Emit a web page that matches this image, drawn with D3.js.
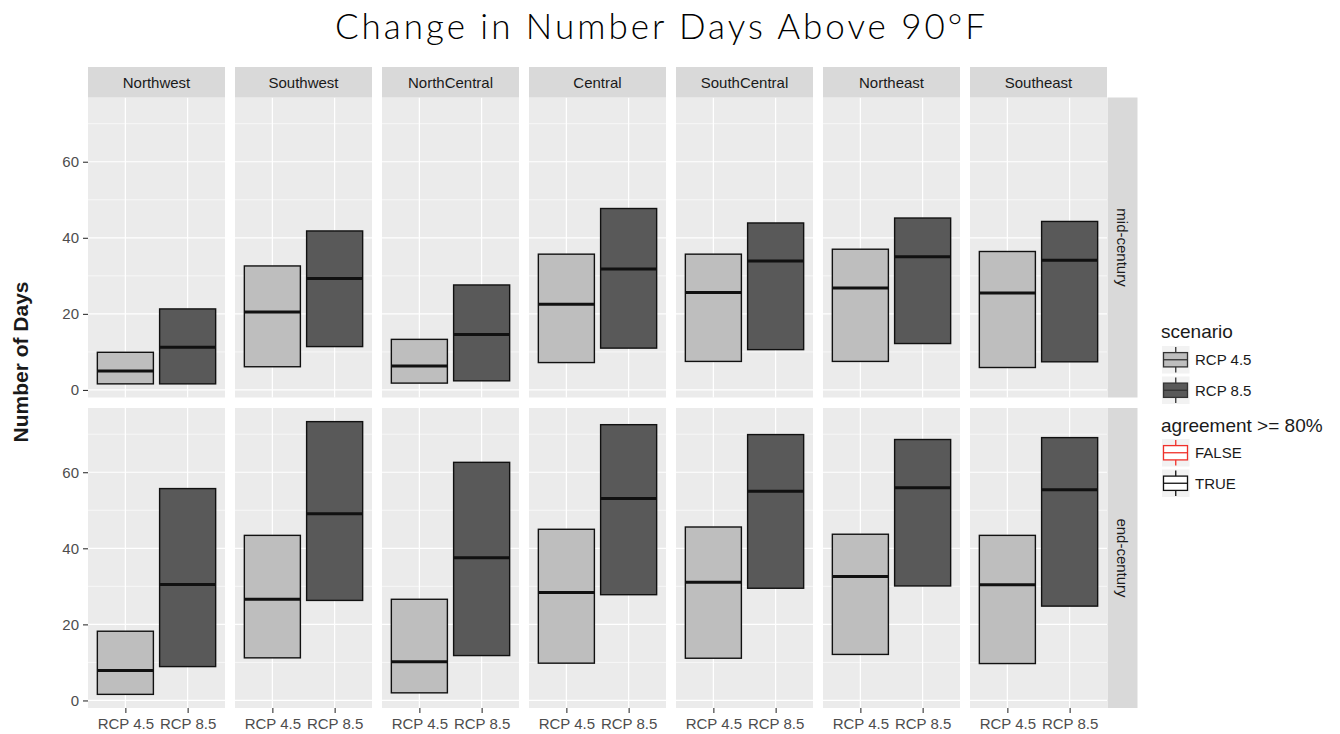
<!DOCTYPE html>
<html><head><meta charset="utf-8">
<script src="https://cdn.jsdelivr.net/npm/d3@7"></script>
<style>body{margin:0;background:#fff}</style>
</head><body><svg id="c" width="1340" height="734"></svg>
<script>
// ---- data ----
const regions = ["Northwest","Southwest","NorthCentral","Central","SouthCentral","Northeast","Southeast"];
const periods = ["mid-century","end-century"];
const scenarios = ["RCP 4.5","RCP 8.5"];
const agreementLevels = ["FALSE","TRUE"];

const midLow45  = [1.6, 6.1, 1.8, 7.2, 7.5, 7.5, 5.9];
const midMed45  = [5.0, 20.5, 6.3, 22.5, 25.6, 26.8, 25.5];
const midUp45   = [9.9, 32.6, 13.3, 35.7, 35.7, 37.0, 36.4];
const midLow85  = [1.6, 11.4, 2.4, 11.0, 10.6, 12.2, 7.4];
const midMed85  = [11.2, 29.3, 14.6, 31.8, 33.9, 35.0, 34.1];
const midUp85   = [21.3, 41.8, 27.6, 47.7, 43.9, 45.2, 44.3];
const endLow45  = [1.6, 11.2, 2.0, 9.8, 11.1, 12.1, 9.7];
const endMed45  = [7.9, 26.6, 10.2, 28.4, 31.1, 32.6, 30.4];
const endUp45   = [18.2, 43.4, 26.6, 45.0, 45.6, 43.7, 43.4];
const endLow85  = [8.9, 26.3, 11.8, 27.8, 29.5, 30.1, 24.8];
const endMed85  = [30.5, 49.1, 37.5, 53.1, 55.0, 55.9, 55.4];
const endUp85   = [55.7, 73.3, 62.6, 72.5, 69.9, 68.6, 69.1];
const agreeMid45 = ["TRUE","TRUE","TRUE","TRUE","TRUE","TRUE","TRUE"];
const agreeMid85 = ["TRUE","TRUE","TRUE","TRUE","TRUE","TRUE","TRUE"];
const agreeEnd45 = ["TRUE","TRUE","TRUE","TRUE","TRUE","TRUE","TRUE"];
const agreeEnd85 = ["TRUE","TRUE","TRUE","TRUE","TRUE","TRUE","TRUE"];

const yTicks = [0, 20, 40, 60];
const yMinor = [10, 30, 50, 70];

// ---- table ----
const series = {
  "mid-century": {"RCP 4.5": [midLow45, midMed45, midUp45, agreeMid45],
                  "RCP 8.5": [midLow85, midMed85, midUp85, agreeMid85]},
  "end-century": {"RCP 4.5": [endLow45, endMed45, endUp45, agreeEnd45],
                  "RCP 8.5": [endLow85, endMed85, endUp85, agreeEnd85]}
};
const rows = [];
periods.forEach(p => scenarios.forEach(s => regions.forEach((r, i) => {
  const [lo, md, up, ag] = series[p][s];
  rows.push({period: p, scenario: s, region: r, lower: lo[i], median: md[i], upper: up[i], agree: ag[i]});
})));

// ---- styles ----
const fillScale = d3.scaleOrdinal().domain(scenarios).range(["#BEBEBE", "#595959"]);
const colScale = d3.scaleOrdinal().domain(agreementLevels).range(["#F0302A", "#111111"]);
const FONT = "'Liberation Sans', Arial, Helvetica, sans-serif";

// ---- layout ----
const panelLeft0 = 88, panelStep = 147, panelW = 137, panelH = 300;
const rowTop = [97.5, 408];
const stripTop = 67, stripH = 30.5;
const rStripX = 1107.5, rStripW = 30;

const svg = d3.select("#c");
svg.append("rect").attr("width", 1340).attr("height", 734).attr("fill", "#fff");

// y domain with 5% expansion
const ext = [d3.min(rows, d => d.lower), d3.max(rows, d => d.upper)];
const pad = (ext[1] - ext[0]) * 0.05;
const y = d3.scaleLinear().domain([ext[0] - pad, ext[1] + pad]).range([panelH, 0]);
const x = d3.scalePoint().domain(scenarios).range([0, panelW]).padding(0.6);
const boxW = x.step() * 0.9;

// title
const title = svg.append("text")
  .attr("x", 661.5).attr("y", 39).attr("text-anchor", "middle")
  .style("font-family", "Lato, 'Open Sans', sans-serif").style("font-size", "35px")
  .style("font-weight", "300")
  .attr("fill", "#000").text("Change in Number Days Above 90°F");
{
  const w = title.node().getComputedTextLength();
  const n = title.text().length;
  title.style("letter-spacing", ((653 - w) / n).toFixed(2) + "px");
}

// y axis title
svg.append("text")
  .attr("transform", "translate(20,362) rotate(-90)")
  .attr("text-anchor", "middle").attr("dominant-baseline", "central")
  .style("font-family", FONT).style("font-size", "21px").style("font-weight", "bold")
  .attr("fill", "#1a1a1a").text("Number of Days");

periods.forEach((p, ri) => {
  regions.forEach((reg, ci) => {
    const left = panelLeft0 + ci * panelStep, top = rowTop[ri];
    const g = svg.append("g").attr("transform", `translate(${left},${top})`);
    g.append("rect").attr("width", panelW).attr("height", panelH).attr("fill", "#EBEBEB");
    g.selectAll(".mn").data(yMinor).join("line")
      .attr("x1", 0).attr("x2", panelW).attr("y1", d => y(d)).attr("y2", d => y(d))
      .attr("stroke", "#fff").attr("stroke-width", 0.6);
    g.selectAll(".mj").data(yTicks).join("line")
      .attr("x1", 0).attr("x2", panelW).attr("y1", d => y(d)).attr("y2", d => y(d))
      .attr("stroke", "#fff").attr("stroke-width", 1.2);
    g.selectAll(".vx").data(scenarios).join("line")
      .attr("x1", d => x(d)).attr("x2", d => x(d)).attr("y1", 0).attr("y2", panelH)
      .attr("stroke", "#fff").attr("stroke-width", 1.2);

    const pd = rows.filter(d => d.period === p && d.region === reg);
    g.selectAll(".box").data(pd).join("rect")
      .attr("x", d => x(d.scenario) - boxW / 2).attr("width", boxW)
      .attr("y", d => y(d.upper)).attr("height", d => y(d.lower) - y(d.upper))
      .attr("fill", d => fillScale(d.scenario)).attr("stroke", d => colScale(d.agree))
      .attr("stroke-width", 1.4);
    g.selectAll(".med").data(pd).join("line")
      .attr("x1", d => x(d.scenario) - boxW / 2).attr("x2", d => x(d.scenario) + boxW / 2)
      .attr("y1", d => y(d.median)).attr("y2", d => y(d.median))
      .attr("stroke", d => colScale(d.agree)).attr("stroke-width", 3);

    if (ci === 0) {
      const ax = g.append("g").call(d3.axisLeft(y).tickValues(yTicks).tickSize(5).tickPadding(4));
      ax.select(".domain").remove();
      ax.selectAll("line").attr("stroke", "#333").attr("stroke-width", 1.1);
      ax.selectAll("text").attr("fill", "#4D4D4D").style("font-family", FONT).style("font-size", "15px");
    }
    if (ri === periods.length - 1) {
      const ax = g.append("g").attr("transform", `translate(0,${panelH})`)
        .call(d3.axisBottom(x).tickSize(5).tickPadding(5));
      ax.select(".domain").remove();
      ax.selectAll("line").attr("stroke", "#333").attr("stroke-width", 1.1);
      ax.selectAll("text").attr("fill", "#4D4D4D").style("font-family", FONT).style("font-size", "15px");
    }
    if (ri === 0) {
      svg.append("rect").attr("x", left).attr("y", stripTop).attr("width", panelW).attr("height", stripH)
        .attr("fill", "#D9D9D9");
      svg.append("text").attr("x", left + panelW / 2).attr("y", stripTop + stripH / 2)
        .attr("text-anchor", "middle").attr("dominant-baseline", "central")
        .style("font-family", FONT).style("font-size", "15px").attr("fill", "#1A1A1A").text(reg);
    }
  });
  // right strip
  const top = rowTop[ri];
  svg.append("rect").attr("x", rStripX).attr("y", top).attr("width", rStripW).attr("height", panelH)
    .attr("fill", "#D9D9D9");
  svg.append("text")
    .attr("transform", `translate(${rStripX + rStripW / 2},${top + panelH / 2}) rotate(90)`)
    .attr("text-anchor", "middle").attr("dominant-baseline", "central")
    .style("font-family", FONT).style("font-size", "15px").attr("fill", "#1A1A1A").text(p);
});

// ---- legends ----
function keyGlyph(kx, ky, s, fill, stroke) {
  svg.append("rect").attr("x", kx).attr("y", ky).attr("width", s).attr("height", s).attr("fill", "#F2F2F2");
  const cx = kx + s / 2;
  svg.append("line").attr("x1", cx).attr("x2", cx).attr("y1", ky + 1).attr("y2", ky + s - 1)
    .attr("stroke", stroke).attr("stroke-width", 1.3);
  svg.append("rect").attr("x", kx + 1.5).attr("y", ky + s * 0.24).attr("width", s - 3.5).attr("height", s * 0.52)
    .attr("fill", fill).attr("stroke", stroke).attr("stroke-width", 1.3);
  svg.append("line").attr("x1", kx + 1.5).attr("x2", kx + s - 2).attr("y1", ky + s / 2).attr("y2", ky + s / 2)
    .attr("stroke", stroke).attr("stroke-width", 1.3);
}
const legX = 1161, keyS = 27.5, keyGap = 30.5;
svg.append("text").attr("x", legX).attr("y", 338).style("font-family", FONT).style("font-size", "19px")
  .attr("fill", "#1A1A1A").text("scenario");
scenarios.forEach((s, i) => {
  const ky = 346 + i * keyGap;
  keyGlyph(legX + 1, ky, keyS, fillScale(s), "#333333");
  svg.append("text").attr("x", legX + 34).attr("y", ky + keyS / 2).attr("dominant-baseline", "central")
    .style("font-family", FONT).style("font-size", "15px").attr("fill", "#1A1A1A").text(s);
});
svg.append("text").attr("x", legX).attr("y", 432).style("font-family", FONT).style("font-size", "19px")
  .attr("fill", "#1A1A1A").text("agreement >= 80%");
agreementLevels.forEach((a, i) => {
  const ky = 439 + i * keyGap;
  keyGlyph(legX + 1, ky, keyS, "#FFFFFF", colScale(a));
  svg.append("text").attr("x", legX + 34).attr("y", ky + keyS / 2).attr("dominant-baseline", "central")
    .style("font-family", FONT).style("font-size", "15px").attr("fill", "#1A1A1A").text(a);
});
</script></body></html>
